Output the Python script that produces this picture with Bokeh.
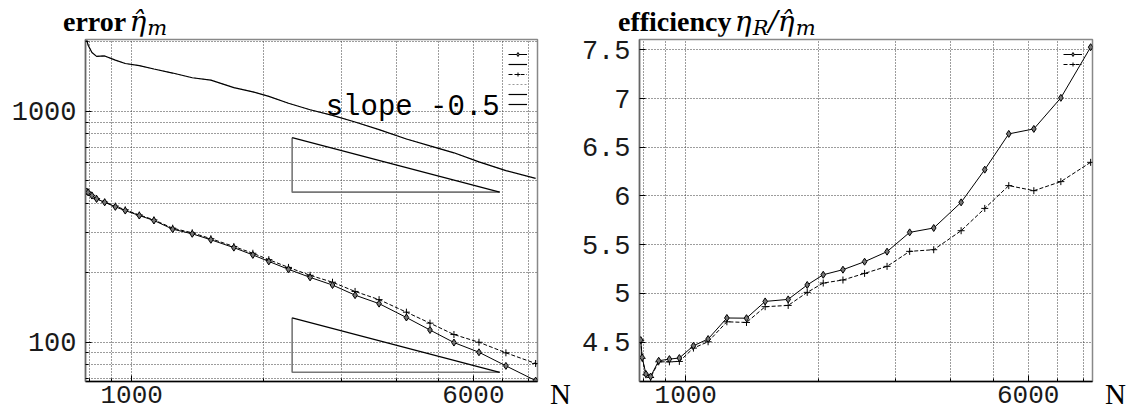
from bokeh.plotting import figure
from bokeh.models import (Range1d, FixedTicker, CustomJSTickFormatter, Label,
                          Legend, LegendItem, Div)
from bokeh.layouts import row, column
from bokeh.embed import file_html
from bokeh.resources import INLINE
from bokeh.core.properties import value

# ---------------- data ----------------
N = [790, 796, 812, 832, 868, 918, 967, 1041, 1124, 1240, 1374, 1515, 1709,
     1888, 2053, 2276, 2549, 2867, 3227, 3660, 4224, 4780, 5420, 6180, 7118, 8318]
err_diamond = [450, 446, 432, 418, 404, 386, 372, 354, 337, 309, 295, 278, 257,
               239, 224, 207, 191, 177, 160, 147, 128, 113, 99.7, 90.5, 79.0, 68.2]
err_plus = [450, 447, 433, 419, 405, 389, 375, 356, 339, 312, 298, 281, 260,
            243, 228, 211, 195, 182, 166, 153, 135, 121, 108, 100, 90.0, 80.9]
eta_R = [2034, 1937, 1802, 1733, 1740, 1669, 1613, 1580, 1527, 1467, 1400, 1367,
         1269, 1216, 1163, 1085, 1017, 961, 900, 834, 760, 709, 662, 605, 554, 513]
eff_diamond = [4.520, 4.342, 4.171, 4.146, 4.308, 4.325, 4.336, 4.462, 4.531,
               4.747, 4.745, 4.917, 4.938, 5.086, 5.191, 5.243, 5.325, 5.428,
               5.626, 5.671, 5.934, 6.270, 6.637, 6.688, 7.007, 7.527]
eff_plus = [4.518, 4.333, 4.164, 4.136, 4.297, 4.297, 4.301, 4.438, 4.503,
            4.708, 4.701, 4.863, 4.876, 5.010, 5.106, 5.137, 5.205, 5.277,
            5.431, 5.448, 5.643, 5.872, 6.106, 6.054, 6.147, 6.345]
# slope -0.5 reference triangles
tri_x = [2320, 6890]
tri_top = [770, 127.6]
tri_base = [447, 74.1]
slope_text = "slope -0.5"

x_major = [1000, 6000]
x_minor = [800, 900, 2000, 3000, 4000, 5000, 7000, 8000]
yl_major = [100, 1000]
yl_minor = [70, 80, 90, 200, 300, 400, 500, 600, 700, 800, 900, 2000]
yr_major = [4.5, 5, 5.5, 6, 6.5, 7, 7.5]

X0, X1 = 785, 8400
YL0, YL1 = 67.6, 2050
YR0, YR1 = 4.095, 7.606

MONO = "Liberation Mono"
SERIF = "Liberation Serif"
MATH = "DejaVu Serif"

H = 409
TITLE_H = 36
FIG_H = H - TITLE_H
TOP = 3
BOTTOM = 28
GRID = "#3a3a3a"


def make_fig(y_type, y0, y1, width, bl, br):
    p = figure(width=width, height=FIG_H, x_axis_type="log", y_axis_type=y_type,
               x_range=Range1d(X0, X1), y_range=Range1d(y0, y1),
               output_backend="svg", toolbar_location=None, title=None,
               min_border_left=bl, min_border_right=br, min_border_top=TOP,
               min_border_bottom=BOTTOM)
    p.outline_line_color = "#888888"
    p.outline_line_width = 1.5
    p.background_fill_color = "white"
    p.border_fill_color = "white"
    for ax in (p.xaxis[0], p.yaxis[0]):
        ax.major_label_text_font = MONO
        ax.major_label_text_color = "#1a1a1a"
        ax.major_tick_in = 6
        ax.major_tick_out = 0
        ax.minor_tick_in = 3
        ax.minor_tick_out = 0
        ax.axis_line_width = 1.5
        ax.formatter = CustomJSTickFormatter(code="return tick.toString();")
    p.xaxis[0].major_label_text_font_size = "26px"
    p.yaxis[0].major_label_text_font_size = "27px"
    p.xaxis[0].axis_line_color = "black"
    p.yaxis[0].axis_line_color = "#666666"
    p.xaxis[0].major_label_standoff = 4
    p.yaxis[0].major_label_standoff = 9
    xt = FixedTicker(ticks=x_major, minor_ticks=x_minor)
    p.xaxis[0].ticker = xt
    p.xgrid[0].ticker = xt
    for g in (p.xgrid[0], p.ygrid[0]):
        g.grid_line_color = GRID
        g.grid_line_dash = "1 2"
        g.grid_line_width = 1
    p.xgrid[0].minor_grid_line_color = GRID
    p.xgrid[0].minor_grid_line_dash = "1 2"
    return p


def make_legend(p, items):
    lg = Legend(items=[LegendItem(label=value(" "), renderers=r) for r in items],
                location="top_right")
    lg.glyph_width = 19
    lg.glyph_height = 10
    lg.label_height = 10
    lg.label_width = 0
    lg.label_standoff = 0
    lg.label_text_font_size = "1px"
    lg.spacing = 0
    lg.padding = 0
    lg.margin = 10
    lg.background_fill_alpha = 0
    lg.border_line_alpha = 0
    p.add_layout(lg)


def math(s):
    return ("<span style=\"font-family:'%s';font-style:italic;font-size:28px\">%s</span>"
            % (MATH, s))


def sub(s):
    return ("<span style=\"font-family:'%s';font-style:italic;font-size:21px;"
            "position:relative;top:4px;padding-left:1px\">%s</span>" % (MATH, s))


def title_div(width, left, word, math_html):
    html = ("<div style=\"white-space:nowrap;padding-top:8px;padding-left:%dpx;"
            "line-height:28px;color:black\">"
            "<span style=\"font-family:'%s';font-weight:bold;font-size:28px\">%s</span>"
            "&nbsp;%s</div>" % (left, SERIF, word, math_html))
    return Div(text=html, width=width, height=TITLE_H, margin=0)


def n_div(width, left):
    html = ("<div style=\"white-space:nowrap;padding-top:381px;padding-left:%dpx;"
            "line-height:26px;font-family:'%s';font-size:29px;color:black\">N</div>"
            % (left, SERIF))
    return Div(text=html, width=width, height=H, margin=0)


# ---------------- left panel ----------------
W1 = 545
p1 = make_fig("log", YL0, YL1, W1, 85, 8)
yt = FixedTicker(ticks=yl_major, minor_ticks=yl_minor)
p1.yaxis[0].ticker = yt
p1.ygrid[0].ticker = yt
p1.ygrid[0].minor_grid_line_color = GRID
p1.ygrid[0].minor_grid_line_dash = "1 2"

r_dot = p1.line(N, eta_R, line_color="#999999", line_dash="2 2", line_width=1)
r_R = p1.line(N, eta_R, line_color="black", line_width=1.2)
r_pl = p1.line(N, err_plus, line_color="black", line_dash="4 2", line_width=1)
r_pm = p1.scatter(N, err_plus, marker="cross", size=7, line_color="black",
                  line_width=1)
r_dl = p1.line(N, err_diamond, line_color="black", line_width=1)
r_dm = p1.scatter(N, err_diamond, marker="diamond", size=7, line_color="black",
                  fill_color="#777777", line_width=1)
tri_r = []
for top, base in zip(tri_top, tri_base):
    p1.line([tri_x[0], tri_x[0], tri_x[1]], [top, base, base],
            line_color="#777777", line_width=1.6)
    tri_r.append(p1.line([tri_x[0], tri_x[1]], [top, base],
                         line_color="black", line_width=1.2))

make_legend(p1, [[r_dl, r_dm], [r_R], [r_pl, r_pm], [r_dot], [tri_r[0]], [tri_r[1]]])
p1.add_layout(Label(x=tri_x[1], y=1040, text=slope_text, text_font=MONO,
                    text_font_size="29px", text_align="right",
                    text_baseline="alphabetic", text_color="black"))

t1 = title_div(W1, 63, "error", math("\u03b7\u0302") + sub("m"))
n1 = n_div(25, 5)

# ---------------- right panel ----------------
W2 = 530
p2 = make_fig("linear", YR0, YR1, W2, 69, 8)
yt2 = FixedTicker(ticks=yr_major)
p2.yaxis[0].ticker = yt2
p2.ygrid[0].ticker = yt2

q_pl = p2.line(N, eff_plus, line_color="black", line_dash="4 2", line_width=1)
q_pm = p2.scatter(N, eff_plus, marker="cross", size=7, line_color="black",
                  line_width=1)
q_dl = p2.line(N, eff_diamond, line_color="black", line_width=1)
q_dm = p2.scatter(N, eff_diamond, marker="diamond", size=7, line_color="black",
                  fill_color="#777777", line_width=1)
make_legend(p2, [[q_dl, q_dm], [q_pl, q_pm]])

t2 = title_div(W2, 48, "efficiency",
               math("\u03b7") + sub("R") + math("/\u03b7\u0302") + sub("m"))
n2 = n_div(31, 5)

layout = row(column(t1, p1), n1, column(t2, p2), n2)
open("out.html", "w").write(file_html(layout, INLINE))
